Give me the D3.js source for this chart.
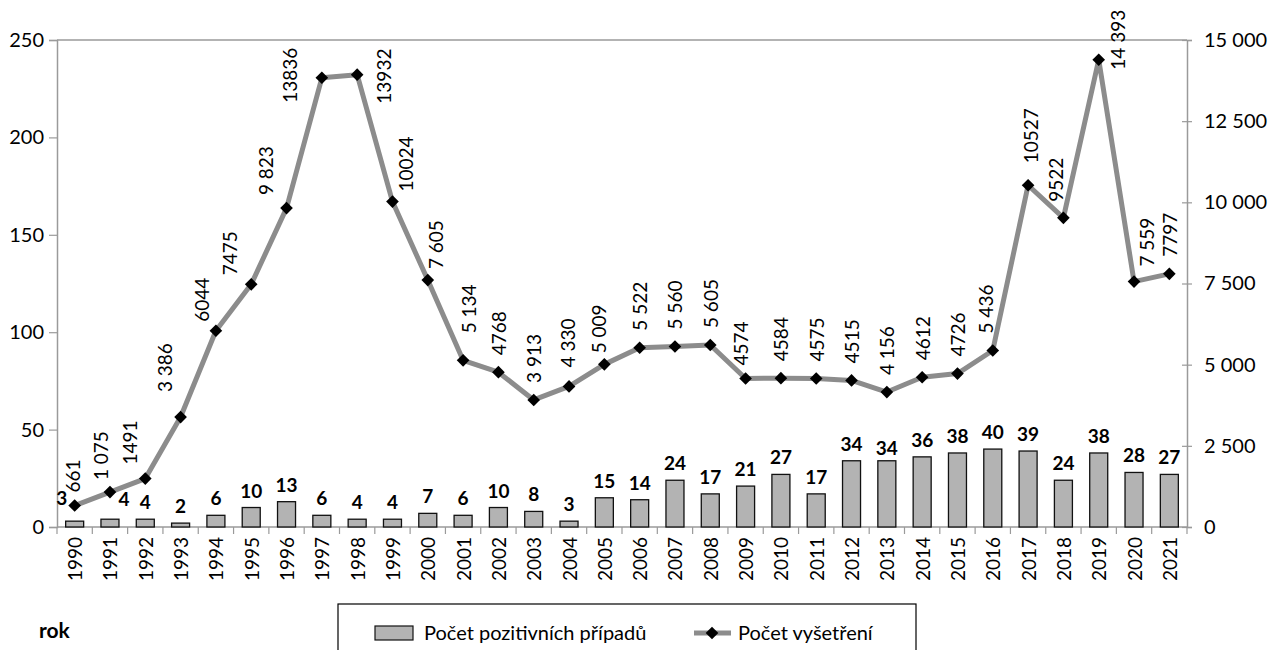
<!DOCTYPE html>
<html>
<head>
<meta charset="utf-8">
<script src="https://cdn.jsdelivr.net/npm/d3@7"></script>
<style>
  body { margin: 0; background: #fff; }
  svg { display: block; font-family: Lato, "Open Sans", sans-serif; }
</style>
</head>
<body>
<svg id="chart" width="1272" height="650"></svg>
<script>
// data
const years = d3.range(1990, 2022).map(String);
const positives = [3, 4, 4, 2, 6, 10, 13, 6, 4, 4, 7, 6, 10, 8, 3, 15, 14, 24, 17, 21, 27, 17, 34, 34, 36, 38, 40, 39, 24, 38, 28, 27];
const exams = [661, 1075, 1491, 3386, 6044, 7475, 9823, 13836, 13932, 10024, 7605, 5134, 4768, 3913, 4330, 5009, 5522, 5560, 5605, 4574, 4584, 4575, 4515, 4156, 4612, 4726, 5436, 10527, 9522, 14393, 7559, 7797];
// labels exactly as printed on the chart (mixed thousand separators)
const examLabels = ["661", "1 075", "1491", "3 386", "6044", "7475", "9 823", "13836", "13932", "10024", "7 605", "5 134", "4768", "3 913", "4 330", "5 009", "5 522", "5 560", "5 605", "4574", "4584", "4575", "4515", "4 156", "4612", "4726", "5 436", "10527", "9522", "14 393", "7 559", "7797"];
const leftTicks = [0, 50, 100, 150, 200, 250];
const rightTicks = [0, 2500, 5000, 7500, 10000, 12500, 15000];
const legendNames = ["Počet pozitivních případů", "Počet vyšetření"];

// manual label nudges (dx, dy from marker), like the hand-placed excel labels
const lineNudge = {
  "1990": [-2, -13], "1991": [-9, -12], "1992": [-16, -14], "1993": [-16, -25],
  "1994": [-14, -9], "1995": [-22, -9], "1996": [-21, -13], "1997": [-32, 25],
  "1998": [26, 29], "1999": [13, -10], "2000": [8, -11], "2001": [5, -27],
  "2004": [-2, -19], "2005": [-6, -11], "2009": [-5, -13], "2016": [-7, -17],
  "2017": [2, -22], "2018": [-8, -16], "2019": [19, 10], "2020": [12, -15]
};
const barNudge = { "1990": [-13, -6], "1991": [14, -3], "2013": [0, 4] };

const svg = d3.select("#chart");
const mLeft = 57, mRight = 1187, mTop = 40, mBottom = 527;
const axisColor = "#9a9a9a";

const x = d3.scaleBand().domain(years).range([mLeft, mRight])
  .paddingInner(0.49).paddingOuter(0.245);
const yL = d3.scaleLinear().domain([0, 250]).range([mBottom, mTop]);
const yR = d3.scaleLinear().domain([0, 15000]).range([mBottom, mTop]);
const cx = d => x(d) + x.bandwidth() / 2;
const fmt = d3.formatLocale({ thousands: " ", grouping: [3], decimal: ",", currency: ["", ""] }).format(",d");

// top border
svg.append("line").attr("x1", mLeft).attr("x2", mRight).attr("y1", mTop).attr("y2", mTop)
  .attr("stroke", axisColor).attr("stroke-width", 1.5);

// left axis
const gL = svg.append("g").attr("transform", `translate(${mLeft},0)`)
  .call(d3.axisLeft(yL).tickValues(leftTicks).tickSize(8).tickPadding(5));
gL.select(".domain").attr("stroke", axisColor).attr("stroke-width", 1.5);
gL.selectAll(".tick line").attr("stroke", axisColor).attr("stroke-width", 1.2);
gL.selectAll(".tick text").attr("font-size", 20).attr("fill", "#000").attr("font-family", "Lato, sans-serif");

// right axis
const gR = svg.append("g").attr("transform", `translate(${mRight},0)`)
  .call(d3.axisRight(yR).tickValues(rightTicks).tickFormat(fmt).tickSize(5).tickPadding(12));
gR.select(".domain").attr("stroke", axisColor).attr("stroke-width", 1.5);
gR.selectAll(".tick line").attr("stroke", axisColor).attr("stroke-width", 1.2).attr("x1", -5);
gR.selectAll(".tick text").attr("font-size", 20).attr("fill", "#000").attr("font-family", "Lato, sans-serif");

// bottom axis line and ticks between categories
svg.append("line").attr("x1", mLeft).attr("x2", mRight).attr("y1", mBottom).attr("y2", mBottom)
  .attr("stroke", axisColor).attr("stroke-width", 1.5);
svg.append("g").selectAll("line").data(d3.range(years.length + 1)).join("line")
  .attr("x1", i => mLeft + i * x.step()).attr("x2", i => mLeft + i * x.step())
  .attr("y1", mBottom).attr("y2", mBottom + 7)
  .attr("stroke", axisColor).attr("stroke-width", 1.2);

svg.append("g").selectAll("text").data(years).join("text")
  .attr("transform", d => `translate(${cx(d)},${mBottom + 10}) rotate(-90)`)
  .attr("text-anchor", "end").attr("dominant-baseline", "central")
  .attr("font-size", 19).text(d => d);

// bars
svg.append("g").selectAll("rect").data(years).join("rect")
  .attr("x", d => x(d)).attr("width", x.bandwidth())
  .attr("y", (d, i) => yL(positives[i])).attr("height", (d, i) => mBottom - yL(positives[i]))
  .attr("fill", "#b3b3b3").attr("stroke", "#111").attr("stroke-width", 1.3);

svg.append("g").selectAll("text").data(years).join("text")
  .attr("x", d => cx(d) + (barNudge[d] ? barNudge[d][0] : 0))
  .attr("y", (d, i) => yL(positives[i]) - 10 + (barNudge[d] ? barNudge[d][1] : 0))
  .attr("text-anchor", "middle").attr("font-size", 19).attr("font-weight", "bold")
  .text((d, i) => positives[i]);

// line
const line = d3.line().x(d => cx(d)).y((d, i) => yR(exams[i]));
svg.append("path").datum(years).attr("d", line)
  .attr("fill", "none").attr("stroke", "#8c8c8c").attr("stroke-width", 5)
  .attr("stroke-linejoin", "round");

svg.append("g").selectAll("path").data(years).join("path")
  .attr("transform", (d, i) => `translate(${cx(d)},${yR(exams[i])}) rotate(45)`)
  .attr("d", d3.symbol().type(d3.symbolSquare).size(80)).attr("fill", "#000");

svg.append("g").selectAll("text").data(years).join("text")
  .attr("transform", (d, i) => {
    const n = lineNudge[d] || [0, -17];
    return `translate(${cx(d) + n[0]},${yR(exams[i]) + n[1]}) rotate(-90)`;
  })
  .attr("text-anchor", "start").attr("dominant-baseline", "central")
  .attr("font-size", 19).text((d, i) => examLabels[i]);

// legend
svg.append("text").attr("x", 39).attr("y", 638).attr("font-size", 21)
  .attr("font-weight", "bold").text("rok");

const lg = svg.append("g");
lg.append("rect").attr("x", 338).attr("y", 604).attr("width", 578).attr("height", 60)
  .attr("fill", "#fff").attr("stroke", "#000").attr("stroke-width", 1.2);
lg.append("rect").attr("x", 375).attr("y", 626).attr("width", 38).attr("height", 14)
  .attr("fill", "#b3b3b3").attr("stroke", "#111").attr("stroke-width", 1.2);
lg.append("text").attr("x", 424).attr("y", 640).attr("font-size", 20).text(legendNames[0]);
lg.append("line").attr("x1", 694).attr("x2", 731).attr("y1", 633).attr("y2", 633)
  .attr("stroke", "#8c8c8c").attr("stroke-width", 5);
lg.append("path").attr("transform", "translate(712,633) rotate(45)")
  .attr("d", d3.symbol().type(d3.symbolSquare).size(80)).attr("fill", "#000");
lg.append("text").attr("x", 738).attr("y", 640).attr("font-size", 20).text(legendNames[1]);
</script>
</body>
</html>
